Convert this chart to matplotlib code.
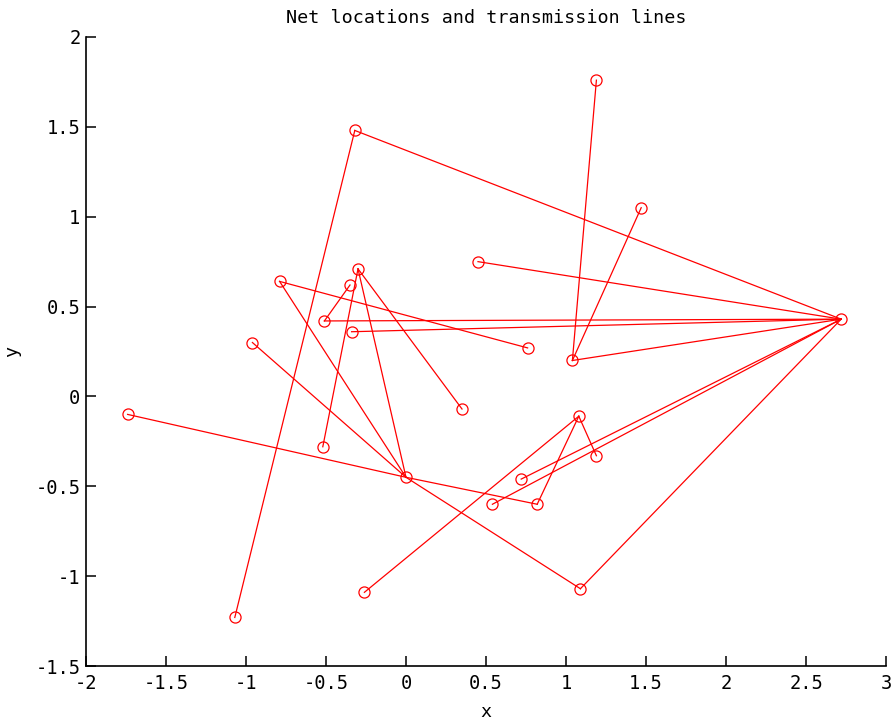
import matplotlib
matplotlib.use("Agg")
import matplotlib.pyplot as plt

plt.rcParams['font.family'] = ['DejaVu Sans Mono']
plt.rcParams['axes.unicode_minus'] = False

# Node locations
node_x = [2.72, 1.19, 1.47, -0.32, 0.45, -0.79, -0.30, -0.35, -0.51, -0.34,
          0.76, 1.04, -0.96, -1.74, 0.35, -0.52, 0.00, 1.08, 1.19, 0.72,
          0.54, 0.82, -0.26, 1.09, -1.07]
node_y = [0.43, 1.76, 1.05, 1.48, 0.75, 0.64, 0.71, 0.62, 0.42, 0.36,
          0.27, 0.20, 0.30, -0.10, -0.07, -0.28, -0.45, -0.11, -0.33, -0.46,
          -0.60, -0.60, -1.09, -1.07, -1.23]

# Transmission lines (pairs of node indices)
edge_from = [1, 2, 11, 3, 3, 4, 5, 5, 6, 6, 6, 7, 8, 9, 12, 13, 16, 16, 23, 22, 17, 17, 19, 20]
edge_to   = [11, 11, 0, 0, 24, 0, 10, 16, 16, 14, 15, 8, 0, 0, 16, 16, 21, 23, 0, 17, 18, 21, 0, 0]

x_ticks = [-2, -1.5, -1, -0.5, 0, 0.5, 1, 1.5, 2, 2.5, 3]
y_ticks = [-1.5, -1, -0.5, 0, 0.5, 1, 1.5, 2]

fig = plt.figure(figsize=(8.92, 7.22), dpi=100)
ax = fig.add_axes([86/892, 56/722, 800/892, 629/722])

red = '#ff0000'
for a, b in zip(edge_from, edge_to):
    ax.plot([node_x[a], node_x[b]], [node_y[a], node_y[b]], color=red, lw=0.9)
ax.plot(node_x, node_y, 'o', mfc='none', mec=red, ms=8, mew=0.9, ls='none')

ax.set_xlim(-2, 3)
ax.set_ylim(-1.5, 2)
ax.set_xticks(x_ticks)
ax.set_xticklabels([f"{v:g}" for v in x_ticks])
ax.set_yticks(y_ticks)
ax.set_yticklabels([f"{v:g}" for v in y_ticks])

for s in ['top', 'right']:
    ax.spines[s].set_visible(False)
for s in ['left', 'bottom']:
    ax.spines[s].set_linewidth(1.2)

ax.tick_params(axis='both', direction='in', length=7, width=1.1, labelsize=13.5)
ax.tick_params(axis='x', pad=6)
ax.tick_params(axis='y', pad=4)

ax.set_title("Net locations and transmission lines", fontsize=13.2, pad=10)
ax.set_xlabel("x", fontsize=13.2, labelpad=7)
ax.set_ylabel("y", fontsize=13.2, labelpad=10)

fig.savefig("out.png", dpi=100)
